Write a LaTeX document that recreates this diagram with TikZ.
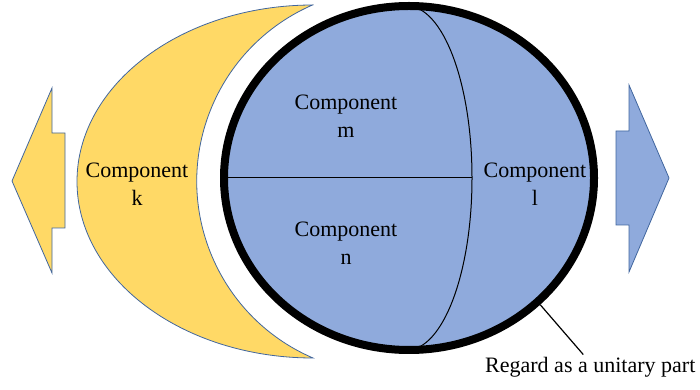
\documentclass[tikz,border=0pt]{standalone}
\usepackage{fontspec}
\setmainfont{Liberation Serif}
\usetikzlibrary{shapes.geometric}
\definecolor{compblue}{HTML}{8FAADC}
\definecolor{compgold}{HTML}{FFD966}
\definecolor{edgeblue}{HTML}{41669E}

\begin{document}
\begin{tikzpicture}[x=1pt, y=1pt,
  part/.style={draw=edgeblue, line width=0.8pt},
  comptext/.style={font=\fontsize{22}{28}\selectfont, align=center, inner sep=0pt}]
  \useasboundingbox (0,0) rectangle (700,390);
  % Arrows
  \draw[part, fill=compgold] (12,209) -- (52,302) -- (52,257) -- (65,257) -- (65,162) -- (52,162) -- (52,117) -- cycle;
  \draw[part, fill=compblue] (616,259) -- (629,259) -- (629,305) -- (669,212) -- (629,118) -- (629,165) -- (616,165) -- cycle;
  % Crescent
  \draw[part, fill=compgold] (313,385) arc[start angle=90, end angle=270, x radius=236, y radius=176.5]
    arc[start angle=246.7, end angle=113.3, radius=192.3] -- cycle;
  % Unitary part
  \node[ellipse, draw=black, line width=8pt, fill=compblue, minimum width=370pt, minimum height=344pt, inner sep=0pt] (whole) at (409,212) {};
  \coordinate (mid) at (472,212);
  \draw[line width=1pt] (407,384) arc[start angle=90, end angle=-90, x radius=65, y radius=172];
  \draw[line width=1pt] (whole.west) -- (mid);
  % Labels
  \node[comptext] (k) at (137,206) {Component\\k};
  \node[comptext] (m) at (346,274) {Component\\m};
  \node[comptext] (n) at (346,147) {Component\\n};
  \node[comptext] (l) at (535,206) {Component\\l};
  \node[comptext, anchor=base west] (unitary) at (485,17) {Regard as a unitary part};
  \draw[line width=1.2pt] (whole.-44) -- ([xshift=-7pt, yshift=3pt]unitary.north);
\end{tikzpicture}
\end{document}
